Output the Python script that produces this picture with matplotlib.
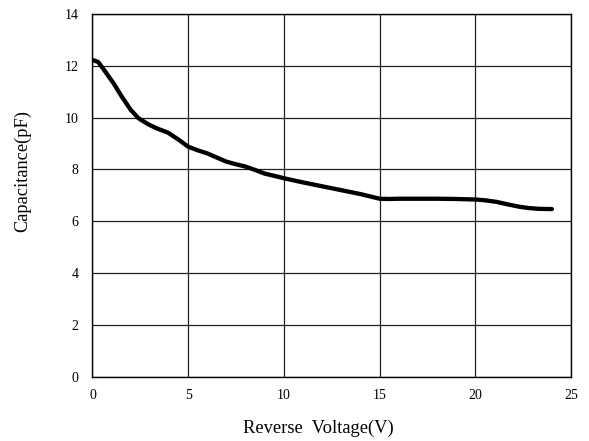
import matplotlib
matplotlib.use("Agg")
import matplotlib.pyplot as plt

voltage = [0.0, 0.3, 0.6, 1.1, 1.5, 2.0, 2.4, 2.9, 3.35, 3.95, 4.5, 5.0, 5.5, 6.0, 6.5, 7.0, 7.5, 8.0, 8.5, 9.0, 9.8, 10.0, 11.0, 12.0, 13.0, 14.0, 15.0, 15.5, 16.0, 17.0, 18.0, 19.0, 20.0, 20.5, 21.1, 21.7, 22.3, 22.8, 23.3, 24.0]
capacitance = [12.23, 12.15, 11.85, 11.33, 10.85, 10.3, 9.98, 9.75, 9.59, 9.42, 9.15, 8.88, 8.74, 8.62, 8.46, 8.30, 8.20, 8.11, 7.98, 7.84, 7.70, 7.66, 7.50, 7.35, 7.20, 7.05, 6.87, 6.86, 6.87, 6.87, 6.87, 6.86, 6.84, 6.81, 6.75, 6.65, 6.56, 6.51, 6.48, 6.47]

x_ticks = [0, 5, 10, 15, 20, 25]
y_ticks = [0, 2, 4, 6, 8, 10, 12, 14]

plt.rcParams['font.family'] = ['Liberation Serif', 'DejaVu Serif']

fig = plt.figure(figsize=(5.89, 4.41), dpi=100)
ax = fig.add_axes([0.157, 0.146, 0.8125, 0.822])
ax.plot(voltage, capacitance, color='black', linewidth=3.1, solid_joinstyle='round', solid_capstyle='round', zorder=3)
ax.set_xlim(0, 25)
ax.set_ylim(0, 14)
ax.set_xticks(x_ticks)
ax.set_yticks(y_ticks)
ax.grid(True, color='#222222', linewidth=0.9)
for s in ax.spines.values():
    s.set_color('black')
    s.set_linewidth(1.0)
ax.tick_params(axis='both', length=0, labelsize=10, colors='black')
ax.tick_params(axis='x', pad=9)
ax.tick_params(axis='y', pad=10)
fig.text(0.540, 0.0175, 'Reverse  Voltage(V)', fontsize=13.3, ha='center', va='baseline')
fig.text(0.038, 0.612, 'Capacitance(pF)', fontsize=13.2, ha='center', va='center', rotation=90)
fig.savefig('out.png', dpi=100)
